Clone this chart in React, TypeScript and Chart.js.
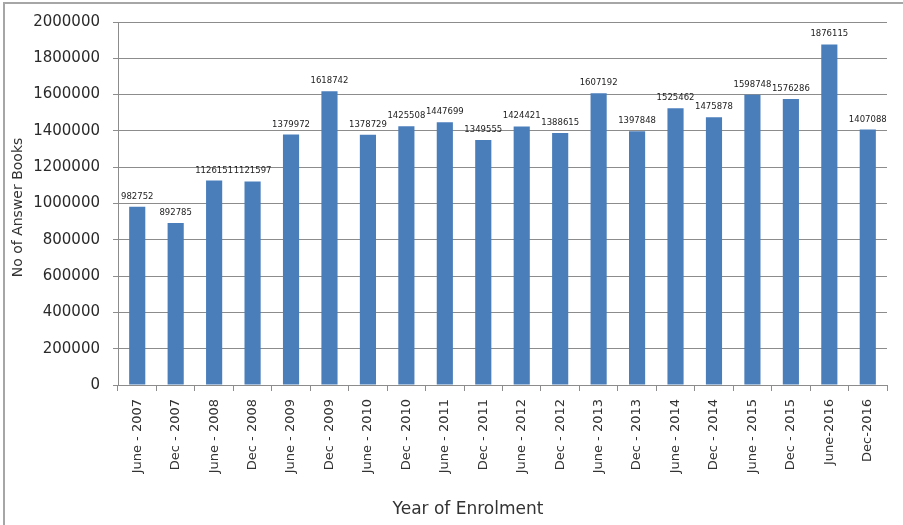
import React, { useEffect, useRef } from "react";
import { Chart, registerables } from "chart.js";

Chart.register(...registerables);

const categories = [
  "June - 2007", "Dec - 2007", "June - 2008", "Dec - 2008", "June - 2009",
  "Dec - 2009", "June - 2010", "Dec - 2010", "June - 2011", "Dec - 2011",
  "June - 2012", "Dec - 2012", "June - 2013", "Dec - 2013", "June - 2014",
  "Dec - 2014", "June - 2015", "Dec - 2015", "June-2016", "Dec-2016",
];

const answerBooks = [
  982752, 892785, 1126151, 1121597, 1379972,
  1618742, 1378729, 1425508, 1447699, 1349555,
  1424421, 1388615, 1607192, 1397848, 1525462,
  1475878, 1598748, 1576286, 1876115, 1407088,
];

const yTitle = "No of Answer Books";
const xTitle = "Year of Enrolment";

const FONT = "'DejaVu Sans', Verdana, sans-serif";

const labelsPlugin = {
  id: "customLabels",
  afterDatasetsDraw(chart: any) {
    const ctx = chart.ctx;
    const meta = chart.getDatasetMeta(0);
    ctx.save();
    ctx.font = `8.5px ${FONT}`;
    ctx.fillStyle = "#222";
    ctx.textAlign = "center";
    ctx.textBaseline = "alphabetic";
    meta.data.forEach((el: any, i: number) => {
      ctx.fillText(String(answerBooks[i]), el.x, el.y - 8);
    });
    ctx.restore();
  },
  afterDraw(chart: any) {
    const ctx = chart.ctx;
    const area = chart.chartArea;
    ctx.save();
    ctx.fillStyle = "#333";
    ctx.textAlign = "center";
    ctx.textBaseline = "middle";
    ctx.font = `17px ${FONT}`;
    ctx.fillText(xTitle, 468, 510);
    ctx.translate(18, (area.top + area.bottom) / 2 + 4);
    ctx.rotate(-Math.PI / 2);
    ctx.font = `14px ${FONT}`;
    ctx.fillText(yTitle, 0, 0);
    ctx.restore();
  },
};

export default function App() {
  const ref = useRef<HTMLCanvasElement | null>(null);

  useEffect(() => {
    if (!ref.current) return;
    const chart = new Chart(ref.current, {
      type: "bar",
      data: {
        labels: categories,
        datasets: [
          {
            data: answerBooks,
            backgroundColor: "#4A7EBB",
            borderWidth: 0,
            categoryPercentage: 1,
            barPercentage: 0.42,
          },
        ],
      },
      options: {
        animation: false,
        responsive: false,
        maintainAspectRatio: false,
        layout: { padding: { top: 20, right: 16, left: 0, bottom: 0 } },
        plugins: {
          legend: { display: false },
          tooltip: { enabled: false },
        },
        scales: {
          x: {
            afterFit: (s: any) => {
              s.height = 140;
            },
            grid: {
              display: true,
              drawOnChartArea: false,
              drawTicks: true,
              tickLength: 6,
              color: "#8c8c8c",
              offset: true,
            },
            border: { display: true, color: "#8c8c8c", width: 1 },
            ticks: {
              autoSkip: false,
              maxRotation: 90,
              minRotation: 90,
              padding: 8,
              color: "#333",
              font: { family: FONT, size: 13 },
            },
          },
          y: {
            min: 0,
            max: 2000000,
            afterFit: (s: any) => {
              s.width = 118;
            },
            grid: {
              color: "#8c8c8c",
              tickLength: 5,
              drawTicks: true,
            },
            border: { display: true, color: "#8c8c8c", width: 1 },
            ticks: {
              stepSize: 200000,
              padding: 13,
              color: "#2a2a2a",
              font: { family: FONT, size: 15 },
              callback: (v: any) => String(v),
            },
          },
        },
      },
      plugins: [labelsPlugin],
    });
    return () => chart.destroy();
  }, []);

  return (
    <div style={{ position: "fixed", left: 0, top: 0, width: 903, height: 525, background: "#fff", overflow: "hidden" }}>
      <div
        style={{
          position: "absolute",
          left: 3,
          top: 2,
          width: 1000,
          height: 600,
          borderLeft: "2px solid #a6a6a6",
          borderTop: "2px solid #a6a6a6",
        }}
      />
      <canvas ref={ref} width={903} height={525} style={{ position: "absolute", left: 0, top: 0 }} />
    </div>
  );
}
